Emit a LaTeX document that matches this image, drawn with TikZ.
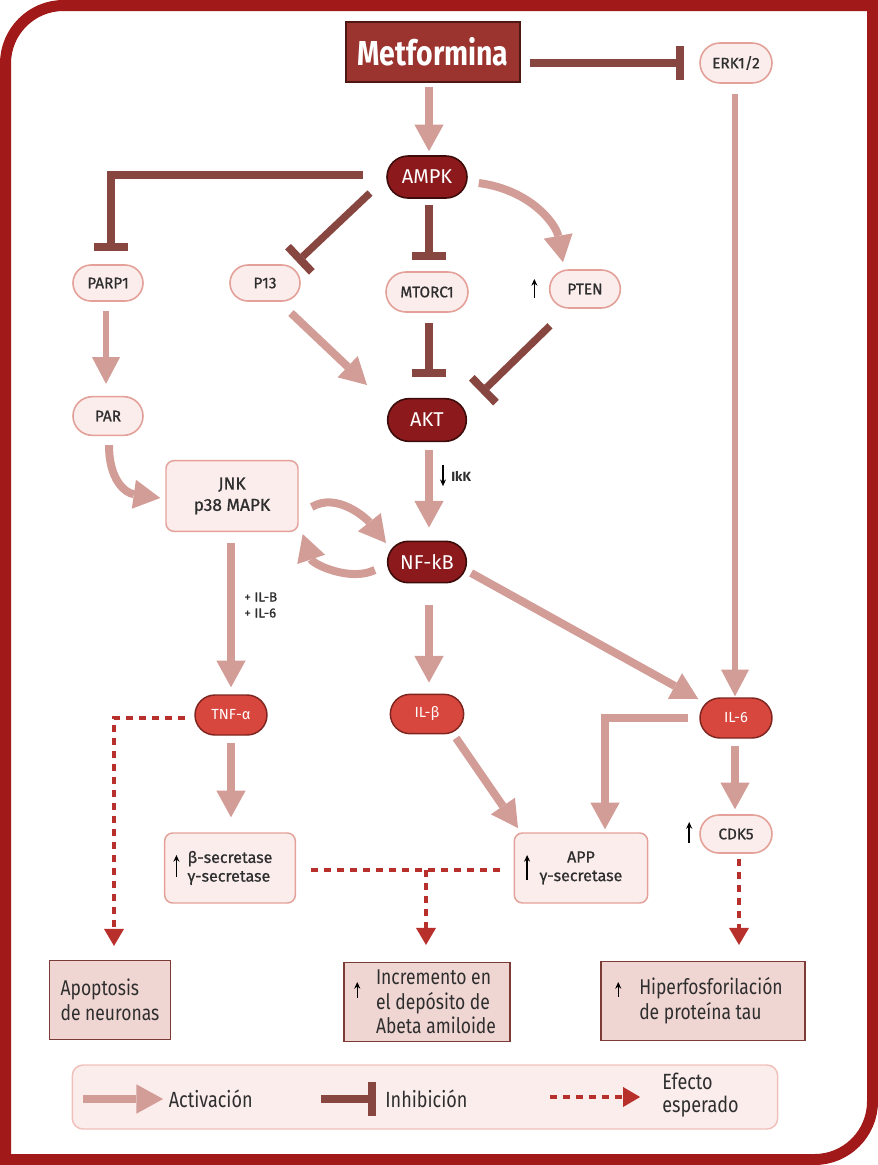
\documentclass[tikz,border=0pt]{standalone}
\usepackage{fontspec}
\setmainfont{Fira Sans}
\newfontfamily\condfont[FakeStretch=0.82]{Fira Sans}
\newfontfamily\medfont[FakeBold=0.8]{Fira Sans}
\usetikzlibrary{arrows.meta,shapes.misc,calc}
\definecolor{framec}{HTML}{A11A19}
\definecolor{metf}{HTML}{9B332F}
\definecolor{metd}{HTML}{4D1714}
\definecolor{inhc}{HTML}{87463F}
\definecolor{actc}{HTML}{D29D97}
\definecolor{dpf}{HTML}{8C1A1D}
\definecolor{dpd}{HTML}{3E0B0B}
\definecolor{bpf}{HTML}{D8473E}
\definecolor{bpd}{HTML}{7E2520}
\definecolor{lpf}{HTML}{FCEDED}
\definecolor{lpd}{HTML}{E3A199}
\definecolor{effc}{HTML}{B8302B}
\definecolor{ebf}{HTML}{F0D6D3}
\definecolor{ebd}{HTML}{7C3B35}
\definecolor{legd}{HTML}{F0C0BB}
\definecolor{txt}{HTML}{2E2E2E}
\begin{document}
\begin{tikzpicture}[x=0.75pt,y=-0.75pt,
 lp/.style={rounded rectangle, draw=lpd, fill=lpf, line width=1.2pt, text=txt, inner sep=0pt, font=\medfont\fontsize{11.5}{13}\selectfont},
 dp/.style={rounded rectangle, draw=dpd, fill=dpf, line width=1.2pt, text=white, inner sep=0pt, font=\fontsize{15}{17}\selectfont},
 bp/.style={rounded rectangle, draw=bpd, fill=bpf, line width=1.1pt, text=white, inner sep=0pt, font=\fontsize{11}{12}\selectfont},
 lbox/.style={rectangle, rounded corners=6pt, draw=lpd, fill=lpf, line width=1.1pt, text=txt, inner sep=0pt, font=\medfont\fontsize{12}{14}\selectfont, align=center},
 effbox/.style={rectangle, draw=ebd, fill=ebf, line width=1.1pt, inner sep=0pt},
 efftxt/.style={text=txt, inner sep=0pt, align=left, font=\condfont\fontsize{16}{18.5}\selectfont},
 act/.style={draw=actc, line width=6pt, -{Triangle[length=20pt,width=22pt,line width=0pt]}},
 actthin/.style={draw=actc, line width=4.5pt, -{Triangle[length=20pt,width=21pt,line width=0pt]}},
 inh/.style={draw=inhc, line width=5.5pt, -{Rectangle[length=6pt,width=26pt,line width=0pt]}},
 eff/.style={draw=effc, line width=3.4pt, dash pattern=on 5.25pt off 4.5pt, -{Triangle[length=12.75pt,width=15pt,line width=0pt]}},
 uparr/.style={draw=black, line width=1.1pt, -{Stealth[length=5pt,width=4.5pt]}},
 legtxt/.style={text=txt, inner sep=0pt, anchor=west, font=\condfont\fontsize{16.5}{17}\selectfont}
]
\useasboundingbox (0,0) rectangle (878,1165);
% frame
\draw[framec, line width=8.25pt, line join=miter] (5.5,1159.5) -- (5.5,63.5) arc[start angle=180,end angle=270,radius=58] -- (872.5,5.5) -- (872.5,1101.5) arc[start angle=0,end angle=90,radius=58] -- cycle;

% nodes
\node[rectangle, fill=metf, draw=metd, line width=1pt, minimum width=130.5pt, minimum height=45pt, text=white, inner sep=0pt, font=\condfont\bfseries\fontsize{26}{30}\selectfont] (met) at (433,52) {Metformina};
\node[lp, minimum width=54pt, minimum height=30pt] (erk) at (736,63) {ERK1/2};
\node[dp, minimum width=60pt, minimum height=31.5pt] (ampk) at (427,177) {AMPK};
\node[lp, minimum width=52.5pt, minimum height=27pt] (parp1) at (108,283) {PARP1};
\node[lp, minimum width=52.5pt, minimum height=27pt] (p13) at (265,283) {P13};
\node[lp, minimum width=61.5pt, minimum height=30pt] (mtorc1) at (427,292) {MTORC1};
\node[lp, minimum width=53pt, minimum height=28.5pt] (pten) at (585,289) {PTEN};
\node[lp, minimum width=52.5pt, minimum height=29pt] (par) at (108,416) {PAR};
\node[dp, minimum width=59pt, minimum height=32pt] (akt) at (427,420) {AKT};
\node[lbox, minimum width=99pt, minimum height=53pt, font=\medfont\fontsize{13}{16}\selectfont] (jnk) at (232,496) {JNK\\p38 MAPK};
\node[dp, minimum width=59pt, minimum height=31pt] (nfkb) at (427,562) {NF-kB};
\node[bp, minimum width=54pt, minimum height=30pt] (tnf) at (231,715) {TNF-α};
\node[bp, minimum width=55pt, minimum height=29.5pt] (ilb) at (427,714) {IL-β};
\node[bp, minimum width=54pt, minimum height=30pt] (il6) at (736,718) {IL-6};
\node[lp, minimum width=54pt, minimum height=28.5pt] (cdk5) at (736,834) {CDK5};
\node[lbox, minimum width=98pt, minimum height=52.5pt, align=left] (bsec) at (230,868) {β-secretase\\γ-secretase};
\node[lbox, minimum width=100pt, minimum height=52.5pt] (app) at (581,868) {APP\\γ-secretase};
\node[effbox, minimum width=91pt, minimum height=59pt] (apop) at (110,1000) {};
\node[efftxt] (apopt) at (apop.center) {Apoptosis\\de neuronas};
\node[effbox, minimum width=124.5pt, minimum height=59pt] (incr) at (427,1002) {};
\node[efftxt] (incrt) at ($(incr.center)+(9,0)$) {Incremento en\\el depósito de\\Abeta amiloide};
\node[effbox, minimum width=153pt, minimum height=59pt] (hiper) at (703,1001) {};
\node[efftxt] (hipert) at ($(hiper.center)+(8,0)$) {Hiperfosforilación\\de proteína tau};

% small up/down arrows
\draw[uparr] ($(pten.west)+(-14.5,9)$) -- ($(pten.west)+(-14.5,-10)$);
\draw[uparr] ($(cdk5.west)+(-10,9)$) -- ($(cdk5.west)+(-10,-12)$);
\draw[uparr] ($(bsec.west)+(12.5,9)$) -- ($(bsec.west)+(12.5,-13)$);
\draw[uparr] ($(app.west)+(13.5,12)$) -- ($(app.west)+(13.5,-13)$);
\draw[uparr, line width=0.8pt] ($(incr.west)+(14,-4)$) -- ($(incr.west)+(14,-20)$);
\draw[uparr, line width=0.8pt] ($(hiper.west)+(18,-4)$) -- ($(hiper.west)+(18,-19)$);
\draw[uparr] ($(akt.south)+(16,23)$) -- ($(akt.south)+(16,44)$);
\node[anchor=west, inner sep=0pt, text=txt, font=\bfseries\fontsize{10}{11}\selectfont] (ikk) at ($(akt.south)+(24,34)$) {IkK};
\node[anchor=west, inner sep=0pt, text=txt, align=left, font=\medfont\fontsize{10}{12}\selectfont] (ilbl) at (244,605) {+ IL-B\\+ IL-6};

% connectors
\draw[inh] ($(met.east |- erk.west)+(9,0)$) -- ($(erk.west)+(-15,0)$);
\draw[act] ($(met.south -| ampk.north)+(2,4)$) -- ($(ampk.north)+(2,-4)$);
\draw[inh] ($(ampk.west)+(-23,-2)$) -| ($(parp1.north)+(3,-13)$);
\draw[inh] ($(ampk.center)+(-57,16)$) -- ($(p13.center)+(32,-21)$);
\draw[inh] ($(ampk.south)+(2,6)$) -- ($(mtorc1.north)+(2,-11)$);
\draw[act] ($(ampk.east)+(11,6)$) .. controls ($(ampk.east)+(63,13)$) and ($(pten.north)+(-29,-45)$) .. ($(pten.north)+(-22,-7)$);
\draw[actthin] ($(parp1.south)+(-2,9)$) -- ($(par.north)+(-2,-12)$);
\draw[act] ($(p13.center)+(26,30)$) -- ($(akt.center)+(-60,-35)$);
\draw[inh] ($(mtorc1.south)+(2,10)$) -- ($(akt.north)+(2,-21)$);
\draw[inh] ($(pten.south)+(-35,17)$) -- ($(akt.center)+(54,-27)$);
\draw[act] ($(akt.south)+(2,8)$) -- ($(nfkb.north)+(2,-13)$);
\draw[act] ($(par.south)+(1,9)$) .. controls +(0,35) and +(-35,-5) .. ($(jnk.west)+(-5,2)$);
\draw[act] ($(jnk.east)+(13,11)$) .. controls +(25,-15) and +(-20,-25) .. ($(nfkb.center)+(-41,-19)$);
\draw[act] ($(nfkb.west)+(-12,8)$) .. controls +(-25,12) and +(10,30) .. ($(jnk.south east)+(4,2)$);
\draw[act] ($(jnk.south -| tnf.north)+(0,11)$) -- ($(tnf.north)+(0,-7)$);
\draw[act] ($(nfkb.south)+(2,22)$) -- ($(ilb.north)+(2,-11)$);
\draw[act] ($(nfkb.east)+(4,11)$) -- ($(il6.west)+(-1,-19)$);
\draw[actthin] ($(erk.south)+(-1,10)$) -- ($(il6.north)+(-1,-1)$);
\draw[eff] ($(tnf.west)+(-9,3)$) -| ($(apop.north)+(4,-14)$);
\draw[act] ($(tnf.south)+(0,7)$) -- ($(tnf.south |- bsec.north)+(0,-15)$);
\draw[act] ($(ilb.center)+(29,24)$) -- ($(app.center)+(-63,-40)$);
\draw[act] ($(il6.west)+(-11,0)$) -| ($(app.north)+(24,-3)$);
\draw[act] ($(il6.south)+(-1,7)$) -- ($(cdk5.north)+(-1,-5)$);
\coordinate (junc) at ($(bsec.east -| incr.north)+(-1,2)$);
\draw[eff, -] ($(bsec.east)+(15,2)$) -- ($(app.west)+(-14,2)$);
\draw[eff] (junc) -- ($(junc |- incr.north)+(0,-17)$);
\draw[eff] ($(cdk5.south)+(3,5)$) -- ($(cdk5.south |- hiper.north)+(3,-16)$);

% legend
\node[rectangle, rounded corners=8pt, draw=legd, fill=lpf, line width=1.1pt, minimum width=529pt, minimum height=48pt] (leg) at (425,1097) {};
\coordinate (la1) at ($(leg.west)+(11.5,2)$);
\coordinate (la2) at ($(leg.west)+(91.5,2)$);
\draw[act] (la1) -- (la2);
\node[legtxt] (lact) at ($(leg.west)+(97,2)$) {Activación};
\coordinate (li1) at ($(leg.west)+(249.5,2)$);
\coordinate (li2) at ($(leg.west)+(304.5,2)$);
\draw[inh, line width=6pt] (li1) -- (li2);
\node[legtxt] (linh) at ($(leg.west)+(313.5,2)$) {Inhibición};
\coordinate (le1) at ($(leg.west)+(478.5,0)$);
\coordinate (le2) at ($(leg.west)+(568.5,0)$);
\draw[eff] (le1) -- (le2);
\node[legtxt, align=left] (leff) at ($(leg.west)+(590.5,-2)$) {Efecto\\esperado};
\end{tikzpicture}
\end{document}
